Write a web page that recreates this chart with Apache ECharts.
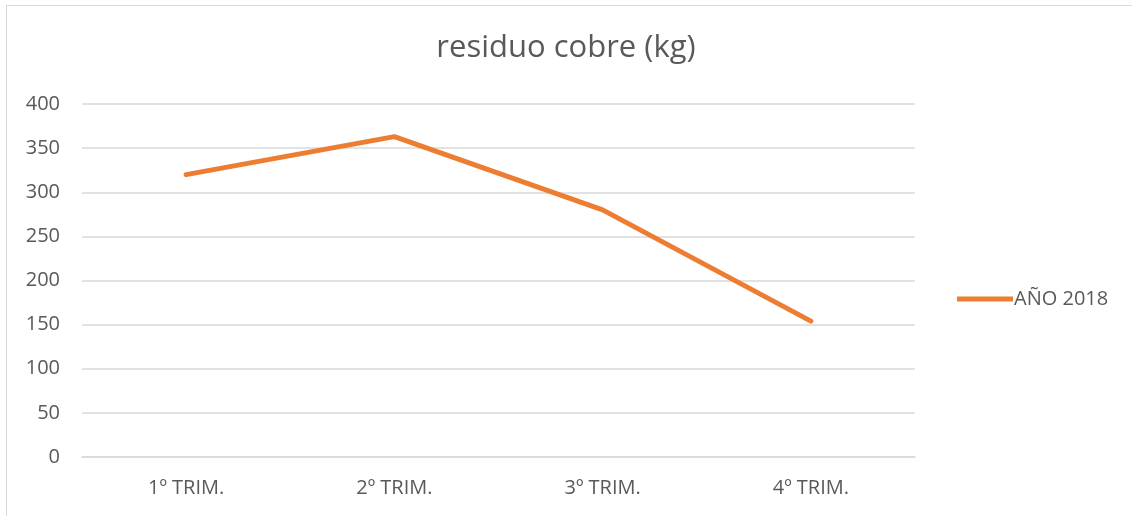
<!DOCTYPE html>
<html><head><meta charset="utf-8">
<script src="https://cdn.jsdelivr.net/npm/echarts@6/dist/echarts.min.js"></script>
<style>
html,body{margin:0;padding:0;background:#fff;overflow:hidden}
#frame{position:absolute;left:6px;top:5px;width:1140px;height:520px;border:1.5px solid #d9d9d9;box-sizing:border-box}
#c{position:absolute;left:0;top:0;width:1132px;height:516px}
</style></head>
<body>
<div id="frame"></div>
<div id="c"></div>
<script>
const categories = ['1º TRIM.', '2º TRIM.', '3º TRIM.', '4º TRIM.'];
const seriesName = 'AÑO 2018';
const values = [320, 363, 280, 154];
const titleText = 'residuo cobre (kg)';

const font = '"Open Sans", "Liberation Sans", sans-serif';
const chart = echarts.init(document.getElementById('c'), null, {renderer: 'canvas'});
chart.setOption({
  animation: false,
  backgroundColor: 'transparent',
  title: {
    text: titleText, left: 'center', top: 28,
    textStyle: {fontFamily: font, fontSize: 31, fontWeight: 'normal', color: '#595959'}
  },
  legend: {
    orient: 'vertical', left: 952, top: 284,
    itemWidth: 56, itemHeight: 5, itemGap: 4,
    textStyle: {fontFamily: font, fontSize: 20, color: '#595959', padding: [0,0,0,-4]},
    data: [{name: seriesName, icon: 'path://M0,0 L56,0 L56,5 L0,5 Z'}]
  },
  grid: {left: 82, right: 217, top: 104, bottom: 59, containLabel: false},
  xAxis: {
    type: 'category', data: categories, boundaryGap: true,
    axisLine: {show: true, lineStyle: {color: '#d9d9d9', width: 1.5}},
    axisTick: {show: false},
    axisLabel: {fontFamily: font, fontSize: 20, color: '#595959', margin: 21}
  },
  yAxis: {
    type: 'value', min: 0, max: 400, interval: 50,
    axisLine: {show: false}, axisTick: {show: false},
    axisLabel: {fontFamily: font, fontSize: 20, color: '#595959', margin: 22},
    splitLine: {lineStyle: {color: '#d9d9d9', width: 1.5}}
  },
  series: [{
    name: seriesName, type: 'line', data: values,
    symbol: 'none', lineStyle: {color: '#ed7d31', width: 5, cap: 'round', join: 'round'},
    itemStyle: {color: '#ed7d31'}
  }]
});
</script>
</body></html>
